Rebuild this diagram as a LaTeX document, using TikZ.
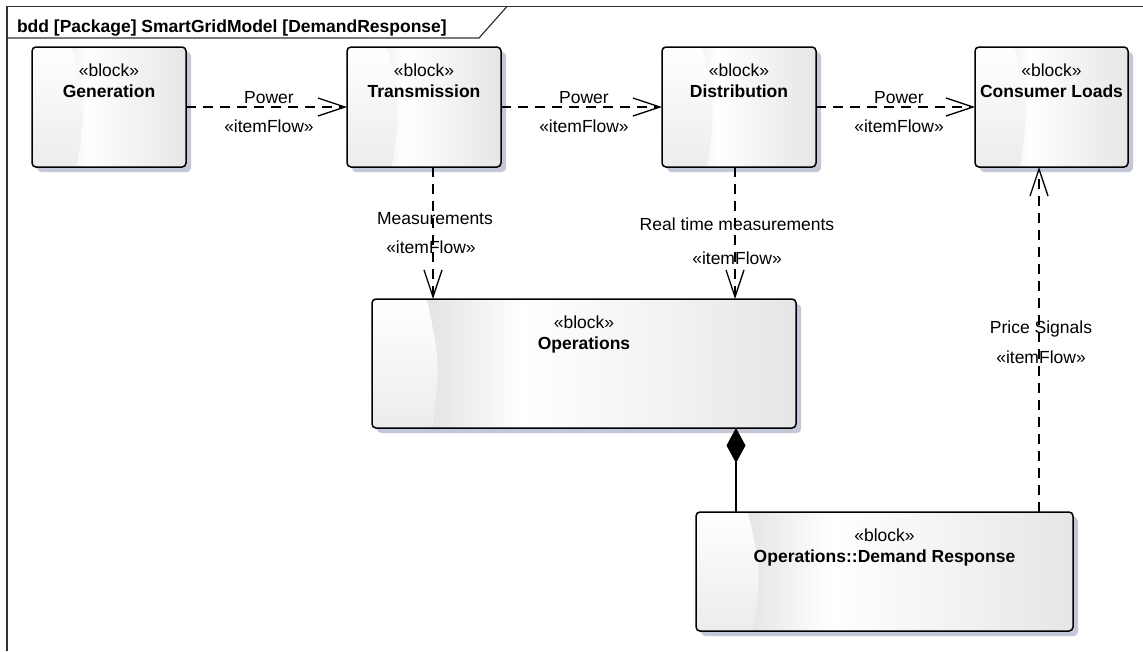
\documentclass[tikz,border=0pt]{standalone}
\usepackage{fontspec}
\setmainfont{Liberation Sans}
\usetikzlibrary{arrows.meta,calc}

\definecolor{blkleft}{RGB}{227,227,227}
\definecolor{blkright}{RGB}{230,230,230}
\definecolor{blkshadow}{RGB}{196,199,216}
\definecolor{crescentlow}{RGB}{236,236,236}
\definecolor{framegrey}{RGB}{50,50,50}

% horizontal fill of a block body (visible part runs from 25bp to 75bp)
\pgfdeclarehorizontalshading{blockshade}{100bp}{%
  color(0bp)=(blkleft); color(31bp)=(blkleft); color(43bp)=(white);
  color(75bp)=(blkright); color(100bp)=(blkright)}

\newcommand{\crescentx}{40pt}

\tikzset{
  x=1pt, y=-1pt,
  every node/.style={font=\fontsize{17.5}{20}\selectfont, inner sep=0pt, outer sep=0pt},
  crescent/.code={\renewcommand{\crescentx}{#1pt}},
  blockshadow/.style={fill=blkshadow, rounded corners=4pt},
  blockbox/.style={draw, line width=1.5pt, rounded corners=4pt, shading=blockshade,
    path picture={
      \shade[top color=white, bottom color=crescentlow]
        (path picture bounding box.north west)
        -- ([xshift=\crescentx]path picture bounding box.north west)
        .. controls ([xshift=\crescentx+13pt]path picture bounding box.west)
                and ([xshift=\crescentx+13pt]path picture bounding box.west)
        .. ([xshift=\crescentx+5pt]path picture bounding box.south west)
        -- (path picture bounding box.south west) -- cycle;
    }},
  stereo/.style={anchor=base},
  blockname/.style={anchor=base, font=\fontsize{17.5}{20}\selectfont\bfseries},
  lbl/.style={anchor=base},
  flow/.style={line width=1.3pt, dash pattern=on 10pt off 7pt,
    -{Straight Barb[length=27pt, width=18pt, line width=1.3pt]}},
  comp/.style={line width=1.3pt, -{Diamond[length=35pt, width=19pt]}},
  frameline/.style={line width=1.2pt, draw=framegrey},
}

% block: name, centre x, centre y, width, height, crescent offset, title
\newcommand{\sysblock}[7]{%
  \node[blockshadow, minimum width=#4pt, minimum height=#5pt] (#1-sh) at (#2+5,#3+5) {};
  \node[blockbox, crescent=#6, minimum width=#4pt, minimum height=#5pt] (#1) at (#2,#3) {};
  \node[stereo] (#1-st) at ([yshift=-29pt]#1.north) {«block»};
  \node[blockname] (#1-nm) at ([yshift=-50pt]#1.north) {#7};
}

\begin{document}
\begin{tikzpicture}
\useasboundingbox (0,0) rectangle (1143,651);

% diagram frame and its name tab
\draw[frameline] (7,651) -- (7,6.5) -- (1143,6.5);
\draw[frameline] (7,38) -- (479,38) -- (507,6.5);
\node[anchor=base west, font=\fontsize{17.5}{20}\selectfont\bfseries] (ttl) at (17,32)
  {bdd [Package] SmartGridModel [DemandResponse]};

% blocks
\sysblock{gen}{109}{107}{154}{120}{40}{Generation}
\sysblock{trans}{424}{107}{154}{120}{40}{Transmission}
\sysblock{dist}{739}{107}{154}{120}{40}{Distribution}
\sysblock{cons}{1051.5}{107}{153}{120}{40}{Consumer Loads}
\sysblock{ops}{584}{363.5}{424}{129}{55}{Operations}
\sysblock{dr}{884.5}{571.5}{377}{119}{52}{Operations::Demand Response}

% power item flows
\draw[flow] (gen) -- (trans);
\draw[flow] (trans) -- (dist);
\draw[flow] (dist) -- (cons);
\node[lbl] (pw1) at (269,103.5) {Power};
\node[lbl] (if1) at (269,132) {«itemFlow»};
\node[lbl] (pw2) at (584,103.5) {Power};
\node[lbl] (if2) at (584,132) {«itemFlow»};
\node[lbl] (pw3) at (899,103.5) {Power};
\node[lbl] (if3) at (899,132) {«itemFlow»};

% measurement flows into Operations
\coordinate (mx) at ([xshift=9pt]trans.south);
\draw[flow] (mx) -- (mx |- ops.north);
\node[lbl] (ms) at (435,224) {Measurements};
\node[lbl] (if4) at (431,253) {«itemFlow»};

\coordinate (rx) at ([xshift=-4pt]dist.south);
\draw[flow] (rx) -- (rx |- ops.north);
\node[lbl] (rt) at (737,230) {Real time measurements};
\node[lbl] (if5) at (737,264) {«itemFlow»};

% price signals to the consumers
\coordinate (px) at ([xshift=-12.5pt]cons.south);
\draw[flow] (px |- dr.north) -- (px);
\node[lbl] (ps) at (1041,333) {Price Signals};
\node[lbl] (if6) at (1041,363) {«itemFlow»};

% composition: Demand Response is part of Operations
\coordinate (cpx) at ([xshift=152pt]ops.south);
\draw[comp] (cpx |- dr.north) -- (cpx);
\end{tikzpicture}
\end{document}
